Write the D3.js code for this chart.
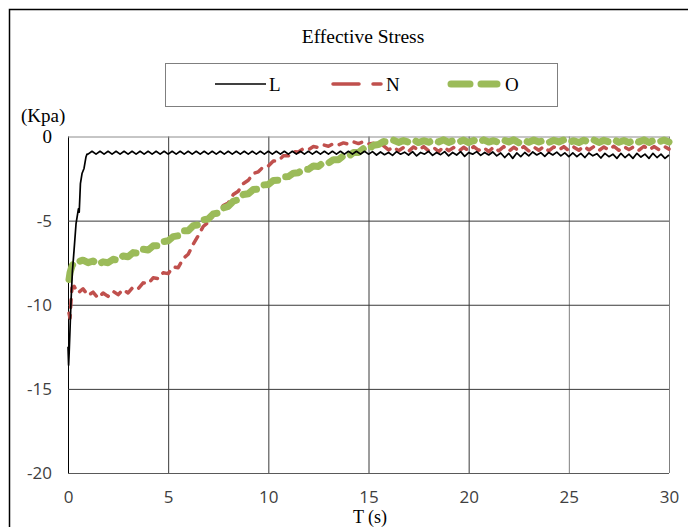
<!DOCTYPE html>
<html><head><meta charset="utf-8">
<script src="https://cdn.jsdelivr.net/npm/d3@7/dist/d3.min.js"></script>
<style>body{margin:0;background:#fff}svg{display:block}</style>
</head><body>
<script>
// ---------- DATA ----------
const xTicks = [0, 5, 10, 15, 20, 25, 30];
const yTicks = [0, -5, -10, -15, -20];
const seriesNames = ["L", "N", "O"];

// L : early transient samples, then regular 0.2 s samples from 1.0 s to 30.0 s
const tL_head = [0, 0.03, 0.06, 0.1, 0.15, 0.22, 0.3, 0.4, 0.48, 0.52, 0.56, 0.62, 0.7, 0.8, 0.9, 0.95];
const vL_head = [-12.5, -13.6, -12.8, -11.5, -9.8, -8.0, -6.8, -5.2, -4.6, -4.3, -4.5, -2.8, -2.2, -1.9, -1.2, -1.05];
const vL = [
 -1.05,-0.88,-1.05,-0.88,-1.05,-0.88,-1.05,-0.88,-1.05,-0.88,
 -1.05,-0.88,-1.05,-0.88,-1.05,-0.88,-1.05,-0.88,-1.05,-0.88,
 -1.05,-0.88,-1.05,-0.88,-1.05,-0.88,-1.05,-0.88,-1.05,-0.88,
 -1.05,-0.88,-1.05,-0.88,-1.05,-0.88,-1.05,-0.88,-1.05,-0.88,
 -1.05,-0.88,-1.05,-0.88,-1.05,-0.88,-1.05,-0.88,-1.05,-0.88,
 -1.05,-0.88,-1.05,-0.88,-1.05,-0.88,-1.05,-0.88,-1.05,-0.88,
 -1.05,-0.88,-1.05,-0.88,-1.05,-0.88,-1.05,-0.88,-1.05,-0.88,
 -1.05,
 -0.9,-1.1,-0.92,-1.08,-0.95,-1.12,-0.9,-1.05,-0.93,-1.1,
 -0.9,-1.15,-0.95,-1.05,-0.88,-1.12,-0.95,-1.08,-0.9,-1.15,
 -0.95,-1.1,-0.9,-1.18,-0.96,-1.05,-0.9,-1.12,-0.95,-1.1,
 -0.92,-1.15,-0.98,-1.25,-1.0,-1.3,-0.98,-1.2,-0.95,-1.15,
 -0.92,-1.1,-0.96,-1.18,-0.95,-1.1,-0.93,-1.15,-0.97,-1.2,
 -0.98,-1.2,-1.0,-1.25,-0.98,-1.15,-1.02,-1.28,-1.0,-1.2,
 -1.05,-1.3,-1.0,-1.25,-1.05,-1.3,-1.0,-1.22,-1.05,-1.3,
 -1.0,-1.25,-1.05,-1.3,-1.1
];

// N : early samples, then regular 0.25 s samples from 0.5 s to 30.0 s
const tN_head = [0.05, 0.1, 0.15, 0.2, 0.3, 0.4];
const vN_head = [-10.5, -10.8, -9.8, -9.0, -8.9, -9.1];
const vN = [
 -9.3,-9.05,
 -9.45,-9.25,-9.6,-9.3, -9.5,-9.2,-9.4,-9.1, -9.3,-8.95,-9.05,-8.7, -8.75,-8.4,-8.45,-8.1,
 -8.15,-7.75,-7.8,-7.25, -7.0,-6.4,-5.9,-5.35, -5.1,-4.7,-4.55,-4.1, -3.95,-3.45,-3.25,-2.8,
 -2.6,-2.2,-2.1,-1.8, -1.75,-1.45,-1.45,-1.15, -1.15,-0.9,-0.92,-0.72, -0.78,-0.6,-0.65,-0.5,
 -0.58,-0.42,-0.5,-0.38, -0.46,-0.32,-0.42,-0.3, -0.45,-0.4,-0.6,-0.55,
 -0.8,-0.62,-0.85,-0.65,-0.88,-0.62,-0.82,-0.6,
 -0.85,-0.65,-0.9,-0.62,-0.84,-0.66,-0.88,-0.64,
 -0.85,-0.6,-0.82,-0.65,-0.9,-0.62,-0.85,-0.6,
 -0.88,-0.64,-0.84,-0.6,-0.86,-0.62,-0.82,-0.6,
 -0.85,-0.62,-0.8,-0.6,-0.84,-0.63,-0.82,-0.58,
 -0.8,-0.6,-0.84,-0.62,-0.8,-0.58,-0.82,-0.6,
 -0.78,-0.6,-0.82,-0.58,-0.8,-0.6,-0.78,-0.58,
 -0.75
];

// O : early samples, then regular 0.25 s samples from 0.5 s to 30.0 s
const tO_head = [0.05, 0.1, 0.2, 0.3, 0.4];
const vO_head = [-8.5, -8.1, -7.7, -7.5, -7.45];
const vO = [
 -7.45,-7.35,
 -7.5,-7.4,-7.6,-7.45, -7.5,-7.3,-7.35,-7.1, -7.15,-6.9,-6.95,-6.7, -6.75,-6.5,-6.5,-6.25,
 -6.2,-5.95,-5.9,-5.6, -5.6,-5.3,-5.25,-4.95, -4.9,-4.6,-4.55,-4.25, -4.15,-3.85,-3.75,-3.45,
 -3.4,-3.15,-3.12,-2.88, -2.85,-2.62,-2.6,-2.4, -2.38,-2.18,-2.15,-1.95, -1.95,-1.75,-1.78,-1.55,
 -1.58,-1.38,-1.38,-1.15, -1.18,-0.95,-0.95,-0.72, -0.75,-0.52,-0.48,-0.3,
 -0.32,-0.22,-0.35,-0.24,-0.33,-0.2,-0.36,-0.25,
 -0.34,-0.22,-0.32,-0.2,-0.35,-0.24,-0.33,-0.21,
 -0.36,-0.23,-0.34,-0.2,-0.33,-0.25,-0.35,-0.22,
 -0.32,-0.2,-0.36,-0.24,-0.34,-0.21,-0.33,-0.23,
 -0.35,-0.22,-0.32,-0.2,-0.34,-0.25,-0.36,-0.22,
 -0.33,-0.21,-0.35,-0.23,-0.32,-0.2,-0.34,-0.24,
 -0.36,-0.22,-0.33,-0.2,-0.35,-0.23,-0.32,-0.21,
 -0.33
];

// ---------- BUILD ----------
const W = 688, H = 527;
const P = {left: 68, right: 669, top: 136.5, bottom: 473};
const svg = d3.select("body").append("svg").attr("width", W).attr("height", H);

const x = d3.scaleLinear().domain([0, 30]).range([P.left, P.right]);
const y = d3.scaleLinear().domain([-20, 0]).range([P.bottom, P.top]);

function build(tHead, vHead, t0, step, vals) {
  const pts = tHead.map((t, i) => [t, vHead[i]]);
  vals.forEach((v, i) => pts.push([t0 + i * step, v]));
  return pts;
}
const dL = build(tL_head, vL_head, 1.0, 0.2, vL);
const dN = build(tN_head, vN_head, 0.5, 0.25, vN);
const dO = build(tO_head, vO_head, 0.5, 0.25, vO);

// outer frame
svg.append("rect").attr("x", 9.5).attr("y", 9.5).attr("width", 720).attr("height", 600)
  .attr("fill", "none").attr("stroke", "#000").attr("stroke-width", 1.5);

const serif = "'Liberation Serif','Times New Roman',serif";
const sans = "'Open Sans','Noto Sans',sans-serif";
const fmt = d => String(d);

// grid + axes
const gx = svg.append("g").attr("transform", `translate(0,${P.bottom})`)
  .call(d3.axisBottom(x).tickValues(xTicks).tickFormat(fmt).tickSizeInner(-(P.bottom - P.top)).tickSizeOuter(0).tickPadding(18));
const gy = svg.append("g").attr("transform", `translate(${P.left},0)`)
  .call(d3.axisLeft(y).tickValues(yTicks).tickFormat(fmt).tickSizeInner(-(P.right - P.left)).tickSizeOuter(0).tickPadding(16));
[gx, gy].forEach(g => {
  g.select(".domain").remove();
  g.selectAll(".tick line").attr("stroke", "#3a3a3a").attr("stroke-width", 1);
  g.selectAll(".tick text").attr("fill", "#404040").style("font-family", sans).style("font-size", "17px");
});
gx.selectAll(".tick").filter(d => d >= 25).select("line").attr("stroke", "#808080");
gy.selectAll(".tick").filter(d => d === 0).select("line").attr("stroke", "#8c8c8c");
gy.selectAll(".tick").filter(d => d === -20).select("line").attr("stroke", "#595959");
gx.selectAll(".tick").filter(d => d === 0).select("line").attr("stroke", "#000");
gy.selectAll(".tick").filter(d => d === 0).select("text").style("font-family", serif).style("font-size", "19px").attr("fill", "#000");

const line = d3.line().x(d => x(d[0])).y(d => y(d[1]));
const plot = svg.append("g");
plot.append("path").datum(dN).attr("d", line).attr("fill", "none")
  .attr("stroke", "#C0504D").attr("stroke-width", 3.5).attr("stroke-dasharray", "8,8")
  .attr("stroke-linecap", "round").attr("stroke-linejoin", "round");
plot.append("path").datum(dO).attr("d", line).attr("fill", "none")
  .attr("stroke", "#9BBB59").attr("stroke-width", 7).attr("stroke-dasharray", "15,9")
  .attr("stroke-linecap", "round").attr("stroke-linejoin", "round");
plot.append("path").datum(dL).attr("d", line).attr("fill", "none")
  .attr("stroke", "#000").attr("stroke-width", 1.7).attr("stroke-linejoin", "round");

// title
svg.append("text").attr("x", 363).attr("y", 43).attr("text-anchor", "middle")
  .style("font-family", serif).style("font-size", "19.5px").text("Effective Stress");

// legend
const lg = svg.append("g");
lg.append("rect").attr("x", 165.5).attr("y", 63.5).attr("width", 392).attr("height", 43)
  .attr("fill", "#fff").attr("stroke", "#7f7f7f");
const legendItems = [
  {name: seriesNames[0], x1: 215, x2: 266, tx: 269, color: "#000", w: 1.7, dash: null, cap: "butt"},
  {name: seriesNames[1], x1: 333, x2: 381, tx: 386, color: "#C0504D", w: 3.5, dash: "26,14", cap: "round"},
  {name: seriesNames[2], x1: 451, x2: 497, tx: 505, color: "#9BBB59", w: 7, dash: "19,11", cap: "round"}
];
legendItems.forEach(it => {
  const l = lg.append("line").attr("x1", it.x1).attr("x2", it.x2).attr("y1", 84).attr("y2", 84)
    .attr("stroke", it.color).attr("stroke-width", it.w).attr("stroke-linecap", it.cap);
  if (it.dash) l.attr("stroke-dasharray", it.dash);
  lg.append("text").attr("x", it.tx).attr("y", 91).style("font-family", serif).style("font-size", "19px").text(it.name);
});

// axis titles
svg.append("text").attr("x", 21).attr("y", 122).style("font-family", serif).style("font-size", "19px").text("(Kpa)");
svg.append("text").attr("x", 370).attr("y", 523).attr("text-anchor", "middle")
  .style("font-family", serif).style("font-size", "18px").text("T (s)");
</script>
</body></html>
